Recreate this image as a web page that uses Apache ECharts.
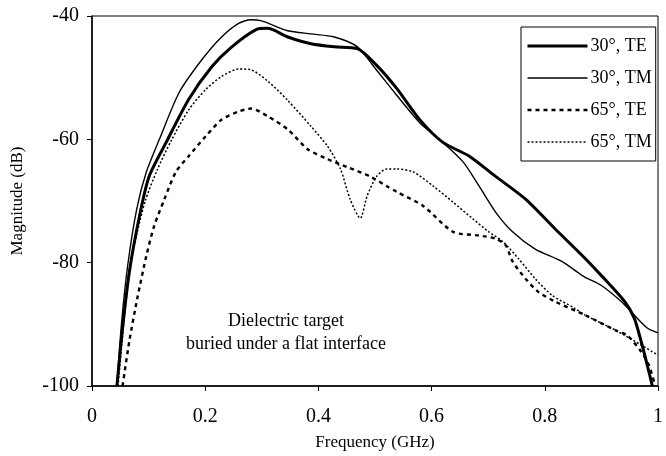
<!DOCTYPE html>
<html>
<head>
<meta charset="utf-8">
<script src="https://cdn.jsdelivr.net/npm/echarts@6/dist/echarts.min.js"></script>
<style>html,body{margin:0;padding:0;background:#fff}#c{width:666px;height:456px}</style>
</head>
<body>
<div id="c"></div>
<script>
const seriesNames = ['30°, TE', '30°, TM', '65°, TE', '65°, TM'];
const xTicks = [0, 0.2, 0.4, 0.6, 0.8, 1];
const yTicks = [-100, -80, -60, -40];

const te30Freq = [0.044, 0.054, 0.066, 0.084, 0.101, 0.131, 0.171, 0.212, 0.247, 0.29, 0.31, 0.346, 0.387, 0.428, 0.469, 0.503, 0.538, 0.579, 0.620, 0.666, 0.713, 0.766, 0.818, 0.870, 0.900, 0.941, 0.958, 0.970, 0.981, 0.990];
const te30Mag = [-100, -90.6, -81.5, -72.4, -66.0, -60.5, -53.5, -48.2, -45.0, -42.2, -42.0, -43.4, -44.5, -45.0, -45.3, -48.0, -51.7, -56.8, -60.5, -62.7, -66.0, -69.7, -74.5, -79.2, -82.1, -86.3, -89.0, -92.7, -96.6, -100];

const tm30Freq = [0.044, 0.052, 0.063, 0.079, 0.096, 0.119, 0.154, 0.194, 0.229, 0.259, 0.28, 0.30, 0.346, 0.387, 0.428, 0.469, 0.503, 0.538, 0.579, 0.620, 0.656, 0.684, 0.713, 0.743, 0.783, 0.830, 0.870, 0.900, 0.935, 0.958, 0.981, 1.0];
const tm30Mag = [-100, -90, -80.5, -71.3, -65.3, -60.0, -52.4, -47.1, -43.4, -41.2, -40.6, -40.8, -42.4, -42.9, -43.4, -45.0, -48.8, -52.8, -57.3, -60.5, -63.7, -67.6, -71.8, -75.0, -77.8, -79.8, -82.3, -83.7, -86.3, -88.5, -90.6, -91.4];

const te65Freq = [0.054, 0.066, 0.080, 0.096, 0.110, 0.128, 0.148, 0.171, 0.201, 0.229, 0.259, 0.281, 0.311, 0.346, 0.381, 0.416, 0.451, 0.491, 0.521, 0.538, 0.585, 0.638, 0.684, 0.713, 0.731, 0.743, 0.766, 0.788, 0.818, 0.871, 0.928, 0.946, 0.970, 0.984, 0.995];
const te65Mag = [-100, -92.7, -85.8, -78.9, -74.0, -69.7, -65.3, -62.7, -59.5, -56.8, -55.5, -55.0, -56.3, -58.4, -61.6, -63.2, -64.5, -66.0, -67.6, -68.5, -70.8, -75.0, -75.6, -76.1, -77.2, -79.8, -82.6, -84.7, -86.3, -88.5, -91.1, -91.8, -94.4, -96.6, -100];

const tm65Freq = [0.046, 0.056, 0.068, 0.080, 0.094, 0.115, 0.140, 0.171, 0.201, 0.229, 0.259, 0.28, 0.311, 0.346, 0.387, 0.416, 0.439, 0.456, 0.474, 0.486, 0.503, 0.521, 0.538, 0.568, 0.603, 0.638, 0.673, 0.701, 0.726, 0.754, 0.783, 0.813, 0.853, 0.871, 0.928, 1.0];
const tm65Mag = [-100, -90, -80, -75, -70, -65, -60.2, -55.2, -51.9, -49.8, -48.6, -48.7, -50.6, -53.7, -57.9, -61.1, -64.8, -69.7, -72.8, -69.2, -66.0, -64.8, -64.8, -65.3, -67.6, -70.2, -72.9, -75.0, -76.6, -79.4, -82.6, -85.3, -87.4, -88.5, -91.1, -95.0];

const annotationLines = ['Dielectric target', 'buried under a flat interface'];

const FONT = "'Liberation Serif', 'Times New Roman', serif";
const pair = (xs, ys) => xs.map((x, i) => [x, ys[i]]);

const chart = echarts.init(document.getElementById('c'));
const lineStyles = [
  { width: 3, type: 'solid' },
  { width: 1.4, type: 'solid' },
  { width: 2.4, type: [4, 4] },
  { width: 1.5, type: [2, 2] }
];
const datasets = [pair(te30Freq, te30Mag), pair(tm30Freq, tm30Mag), pair(te65Freq, te65Mag), pair(tm65Freq, tm65Mag)];

chart.setOption({
  animation: false,
  backgroundColor: '#fff',
  grid: { left: 92, right: 2, top: 16, bottom: 68, show: true, borderColor: '#000', borderWidth: 1 },
  xAxis: {
    type: 'value', min: xTicks[0], max: xTicks[xTicks.length - 1], interval: 0.2,
    name: 'Frequency (GHz)', nameLocation: 'middle', nameGap: 48,
    nameTextStyle: { fontFamily: FONT, fontSize: 17, color: '#000' },
    axisLine: { lineStyle: { color: '#000', width: 1.5 } },
    axisTick: { length: 5, lineStyle: { color: '#000' } },
    axisLabel: { fontFamily: FONT, fontSize: 20, color: '#000', margin: 21, formatter: v => String(+v.toFixed(1)) },
    splitLine: { show: false }
  },
  yAxis: {
    type: 'value', min: yTicks[0], max: yTicks[yTicks.length - 1], interval: 20,
    name: 'Magnitude (dB)', nameLocation: 'middle', nameGap: 66,
    nameTextStyle: { fontFamily: FONT, fontSize: 17, color: '#000' },
    axisLine: { show: true, lineStyle: { color: '#000', width: 1.5 } },
    axisTick: { show: true, length: 5, lineStyle: { color: '#000' } },
    axisLabel: { fontFamily: FONT, fontSize: 20, color: '#000', margin: 13 },
    splitLine: { show: false }
  },
  legend: {
    orient: 'vertical', left: 521, top: 27,
    padding: [10, 4, 10, 5],
    itemWidth: 60, itemHeight: 14, itemGap: 14,
    borderColor: '#000', borderWidth: 1, backgroundColor: '#fff',
    itemStyle: { opacity: 0 },
    textStyle: { fontFamily: FONT, fontSize: 18, color: '#000', padding: [0, 0, 0, -2] },
    data: seriesNames.map((n, i) => ({ name: n, lineStyle: { width: lineStyles[i].width } }))
  },
  graphic: annotationLines.map((t, i) => ({
    type: 'text', x: 286, y: 312 + i * 23, z: 10,
    style: { text: t, font: `18px ${FONT}`, fill: '#000', textAlign: 'center' }
  })),
  series: seriesNames.map((n, i) => ({
    name: n, type: 'line', data: datasets[i], showSymbol: false, symbol: 'none',
    smooth: 0.25, clip: true,
    lineStyle: Object.assign({ color: '#000' }, lineStyles[i]),
    itemStyle: { color: '#000' }
  }))
});
</script>
</body>
</html>
